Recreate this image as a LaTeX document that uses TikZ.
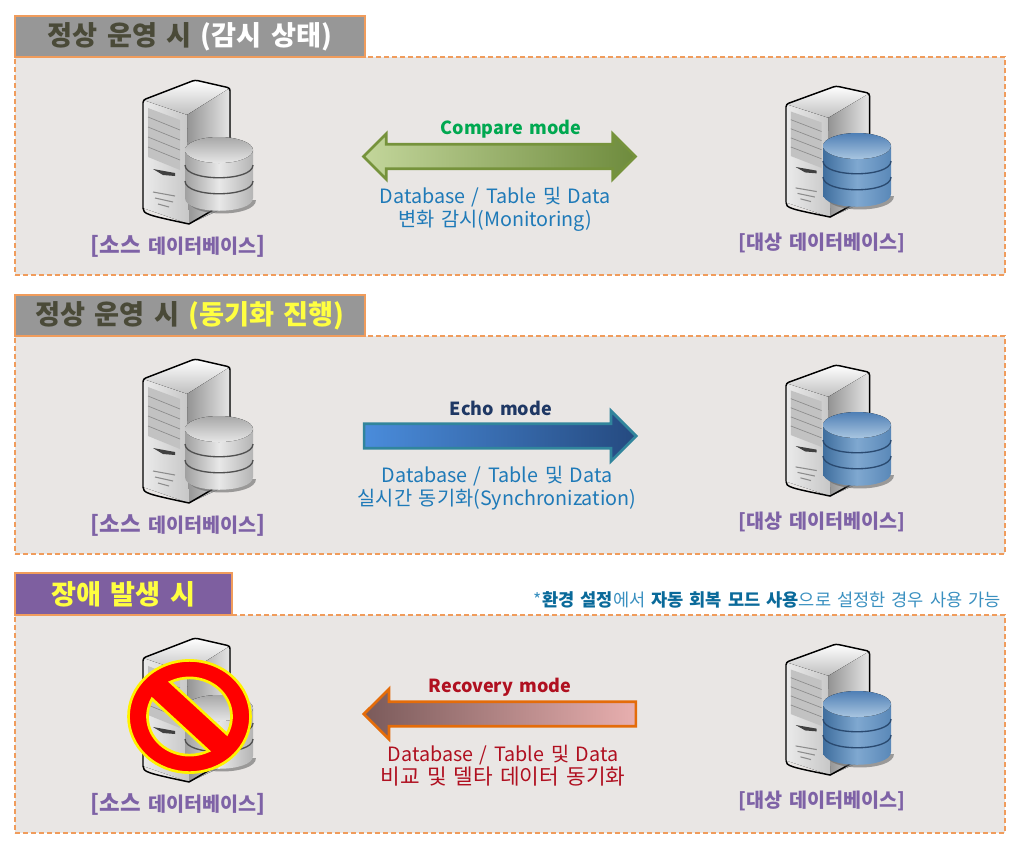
\documentclass[tikz,border=0pt]{standalone}
\usepackage{fontspec}
\setmainfont[WordSpace=1.5]{Noto Sans CJK KR}
\usetikzlibrary{shapes.arrows}

\definecolor{panelfill}{HTML}{E9E6E4}
\definecolor{panelline}{HTML}{F09C5C}
\definecolor{tabgray}{HTML}{979797}
\definecolor{tabpurple}{HTML}{7E5FA0}
\definecolor{tabdark}{HTML}{4A4A38}
\definecolor{tabyellow}{HTML}{FFFF40}
\definecolor{labelpurple}{HTML}{7E62A6}
\definecolor{textblue}{HTML}{1F7AB8}
\definecolor{textred}{HTML}{B01020}
\definecolor{notedark}{HTML}{0A6A9A}
\definecolor{notelight}{HTML}{3A90C0}
\definecolor{cmpgreen}{HTML}{00A850}
\definecolor{echonavy}{HTML}{1F3864}
\definecolor{cmpline}{HTML}{76933C}
\definecolor{cmplight}{HTML}{C3D69B}
\definecolor{cmpdark}{HTML}{6E8B3D}
\definecolor{echoline}{HTML}{31859C}
\definecolor{echolight}{HTML}{4A8CDB}
\definecolor{echodark}{HTML}{254A80}
\definecolor{recline}{HTML}{E46C0A}
\definecolor{recdark}{HTML}{7A5A5A}
\definecolor{reclight}{HTML}{E8AFAF}
\definecolor{bluelft}{HTML}{3F6E9E}
\definecolor{bluemid}{HTML}{7FA8D0}
\definecolor{bluergt}{HTML}{5A88B8}
\definecolor{bluetop}{HTML}{4F7FB5}
\definecolor{bluelow}{HTML}{A8C5E0}
\definecolor{blueband}{HTML}{2A4A70}
\definecolor{graylft}{HTML}{A0A0A0}
\definecolor{graymid}{HTML}{E8E8E8}
\definecolor{grayrgt}{HTML}{B4B4B4}
\definecolor{graytop}{HTML}{A8A8A8}
\definecolor{graylow}{HTML}{E6E6E6}
\definecolor{grayband}{HTML}{505050}

\newcommand{\tabfont}{\fontsize{20.4}{24}\selectfont\bfseries}
\newcommand{\modefont}{\fontsize{13.5}{16}\selectfont\bfseries}
\newcommand{\descfont}{\fontsize{14.8}{17.2}\selectfont}
\newcommand{\srcfont}{\fontsize{16.8}{19}\selectfont\bfseries}
\newcommand{\dbfont}{\fontsize{14.7}{19}\selectfont\bfseries}

\begin{document}
\begin{tikzpicture}[x=0.75pt, y=-0.75pt,
    panelbox/.style={rectangle, draw=panelline, fill=panelfill, line width=1.1pt,
        dashed, dash pattern=on 4pt off 2pt, minimum width=742.5pt, minimum height=163.5pt, inner sep=0pt},
    tabbox/.style={rectangle, draw=panelline, line width=1.5pt, minimum height=31pt,
        inner sep=0pt, font=\tabfont},
    modelabel/.style={inner sep=0pt, font=\modefont},
    desclabel/.style={inner sep=0pt, align=center, font=\descfont},
    cmparrow/.style={double arrow, draw=cmpline, line width=2pt,
        left color=cmplight, right color=cmpdark,
        minimum height=204pt, double arrow head extend=7.9pt, inner xsep=0pt, inner ysep=8.2pt},
    echoarrow/.style={single arrow, draw=echoline, line width=2pt,
        left color=echolight, right color=echodark,
        minimum height=204pt, single arrow head extend=9.7pt, inner xsep=0pt, inner ysep=8.2pt},
    recarrow/.style={single arrow, draw=recline, line width=2pt, shape border rotate=180,
        left color=recdark, right color=reclight,
        minimum height=204pt, single arrow head extend=9.7pt, inner xsep=0pt, inner ysep=8.2pt},
    srvline/.style={black, line width=1.1pt, line join=round},
    pics/srvbox/.style={code={
        \fill[top color=white, bottom color=black!25] (0,20) -- (52,0) -- (87,8) -- (44,35) -- cycle;
        \fill[left color=black!42, right color=black!10] (44,35) -- (87,8) -- (87,125) -- (46,144) -- cycle;
        \fill[left color=black!8, right color=black!22] (0,20) -- (44,35) -- (46,144) -- (0,128) -- cycle;
        \fill[black!24] (5,28) -- (37,40) -- (37,90) -- (5,77) -- cycle;
        \draw[black!45, line width=0.5pt] (5,37) -- (37,50) (5,47) -- (37,60) (5,57) -- (37,70) (5,67) -- (37,80);
        \fill[black!75] (10,89) -- (32,93) -- (32,96) -- (20,95) -- cycle;
        \draw[black!45, line width=0.8pt] (10,112) -- (32,116) (12,118) -- (30,122) (15,124) -- (26,127);
        \draw[srvline, rounded corners=2pt] (0,128) -- (0,20) -- (52,0) -- (87,8) -- (87,125);
        \draw[srvline] (0,128) .. controls (0,134) and (4,135) .. (46,144) -- (70,130);
    }},
    pics/dbstack/.style n args={6}{code={
        \fill[black!60, opacity=0.6] (-31,50) .. controls (-31,68) and (37,68) .. (37,50) -- cycle;
        \path[left color=#1, right color=#3, middle color=#2]
            (-34,0) -- (-34,48) .. controls (-34,65) and (34,65) .. (34,48) -- (34,0) -- cycle;
        \draw[#6, line width=1pt] (-34,15) .. controls (-34,32) and (34,32) .. (34,15);
        \draw[#6, line width=1pt] (-34,31) .. controls (-34,48) and (34,48) .. (34,31);
        \fill[top color=#4, bottom color=#5] (0,0) ellipse [x radius=34, y radius=13];
    }},
    banbox/.style={even odd rule, fill=red, draw=yellow, line width=2pt},
]
    % panels
    \node[panelbox] (panela) at (510,166) {};
    \node[panelbox] (panelb) at (510,445) {};
    \node[panelbox] (panelc) at (510,724) {};

    \node[tabbox, fill=tabgray, minimum width=262pt] (taba) at (190,36.5)
        {\textcolor{tabdark}{정상 운영 시} \textcolor{white}{(감시 상태)}};
    \node[tabbox, fill=tabgray, minimum width=262pt] (tabb) at (190,315.5)
        {\textcolor{tabdark}{정상 운영 시} \textcolor{tabyellow}{(동기화 진행)}};
    \node[tabbox, fill=tabpurple, minimum width=162.5pt] (tabc) at (123.5,594)
        {\textcolor{tabyellow}{장애 발생 시}};

    \node[inner sep=0pt, anchor=east, font=\fontsize{13.2}{15}\selectfont] (note) at (1001,600)
        {\textcolor{notelight}{*}\textcolor{notedark}{\bfseries 환경 설정}\textcolor{notelight}{에서 }\textcolor{notedark}{\bfseries 자동 회복 모드 사용}\textcolor{notelight}{으로 설정한 경우 사용 가능}};

    % source servers
    \pic at (143,80) {srvbox};
    \pic at (219,150) {dbstack={graylft}{graymid}{grayrgt}{graytop}{graylow}{grayband}};
    \pic at (143,359) {srvbox};
    \pic at (219,429) {dbstack={graylft}{graymid}{grayrgt}{graytop}{graylow}{grayband}};
    \pic at (143,638) {srvbox};
    \pic at (219,708) {dbstack={graylft}{graymid}{grayrgt}{graytop}{graylow}{grayband}};

    % target servers
    \pic[xscale=0.96, yscale=0.91] at (786,86) {srvbox};
    \pic at (857,146) {dbstack={bluelft}{bluemid}{bluergt}{bluetop}{bluelow}{blueband}};
    \pic[xscale=0.96, yscale=0.91] at (786,365) {srvbox};
    \pic at (857,425) {dbstack={bluelft}{bluemid}{bluergt}{bluetop}{bluelow}{blueband}};
    \pic[xscale=0.96, yscale=0.91] at (786,644) {srvbox};
    \pic at (857,704) {dbstack={bluelft}{bluemid}{bluergt}{bluetop}{bluelow}{blueband}};

    % no entry sign
    \begin{scope}[shift={(189.5,716.5)}, yscale=0.92, rotate=-45, y=0.75pt]
        \path[banbox] (0,0) circle [radius=61]
            (18:42) arc [start angle=18, end angle=162, radius=42] -- cycle
            (198:42) arc [start angle=198, end angle=342, radius=42] -- cycle;
    \end{scope}

    % arrows
    \node[cmparrow] (cmparr) at (499.5,156.5) {};
    \node[echoarrow] (echoarr) at (494,436) {};
    \node[recarrow] (recarr) at (506,714) {};

    \node[modelabel, text=cmpgreen] (cmpname) at (511,129) {Compare mode};
    \node[modelabel, text=echonavy] (echoname) at (501,408) {Echo mode};
    \node[modelabel, text=textred] (recname) at (500,687) {Recovery mode};

    \node[desclabel, text=textblue] (cmptext) at (495,209.5) {Database / Table 및 Data\\변화 감시(Monitoring)};
    \node[desclabel, text=textblue] (echotext) at (497,488) {Database / Table 및 Data\\실시간 동기화(Synchronization)};
    \node[desclabel, text=textred] (rectext) at (503,766) {Database / Table 및 Data\\{\fontsize{16}{17.2}\selectfont 비교 및 델타 데이터 동기화}};

    % labels
    \node[inner sep=0pt, text=labelpurple] (srca) at (178,246) {\srcfont [소스 \dbfont 데이터베이스\srcfont ]};
    \node[inner sep=0pt, text=labelpurple] (srcb) at (178,525) {\srcfont [소스 \dbfont 데이터베이스\srcfont ]};
    \node[inner sep=0pt, text=labelpurple] (srcc) at (178,804) {\srcfont [소스 \dbfont 데이터베이스\srcfont ]};
    \node[inner sep=0pt, text=labelpurple] (tgta) at (822,243) {\dbfont [대상 데이터베이스]};
    \node[inner sep=0pt, text=labelpurple] (tgtb) at (822,522) {\dbfont [대상 데이터베이스]};
    \node[inner sep=0pt, text=labelpurple] (tgtc) at (822,801) {\dbfont [대상 데이터베이스]};

    \useasboundingbox (0,0) rectangle (1024,847);
\end{tikzpicture}
\end{document}
